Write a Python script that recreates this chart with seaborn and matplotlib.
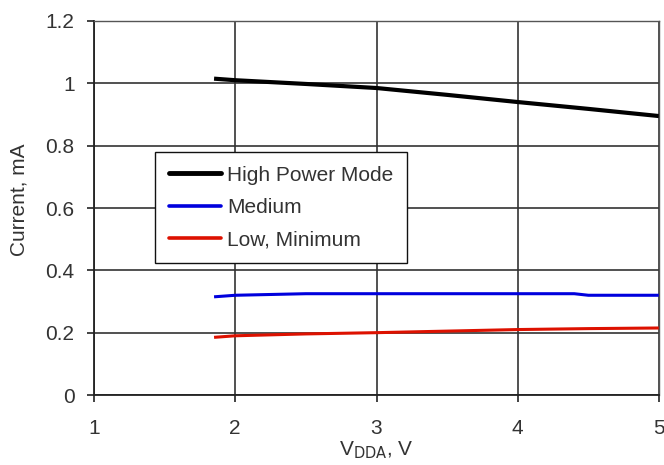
import matplotlib
matplotlib.use("Agg")
import matplotlib.pyplot as plt
import seaborn as sns
import pandas as pd
from matplotlib.lines import Line2D

# Data
series_names = ["High Power Mode", "Medium", "Low, Minimum"]
x_high = [1.85, 2.0, 2.5, 3.0, 3.5, 4.0, 4.5, 5.0]
y_high = [1.015, 1.01, 0.998, 0.985, 0.963, 0.94, 0.918, 0.895]
x_med = [1.85, 2.0, 2.5, 3.0, 3.5, 4.0, 4.4, 4.5, 5.0]
y_med = [0.315, 0.32, 0.325, 0.325, 0.325, 0.325, 0.325, 0.32, 0.32]
x_low = [1.85, 2.0, 2.5, 3.0, 3.5, 4.0, 4.5, 5.0]
y_low = [0.185, 0.19, 0.196, 0.2, 0.205, 0.21, 0.213, 0.215]
colors = ["#000000", "#0000dd", "#dd1100"]
x_ticks = [1, 2, 3, 4, 5]
y_ticks = [0, 0.2, 0.4, 0.6, 0.8, 1, 1.2]
y_tick_labels = ["0", "0.2", "0.4", "0.6", "0.8", "1", "1.2"]

rows = []
for name, xs, ys in zip(series_names, [x_high, x_med, x_low], [y_high, y_med, y_low]):
    for xv, yv in zip(xs, ys):
        rows.append({"V": xv, "I": yv, "Mode": name})
df = pd.DataFrame(rows)

sns.set_theme(style="white")
plt.rcParams["font.family"] = ["Liberation Sans", "DejaVu Sans"]

FS = 15
fig = plt.figure(figsize=(6.64, 4.65), dpi=100)
ax = fig.add_axes([94 / 664, 70 / 465, 565 / 664, 374 / 465])

sns.lineplot(data=df, x="V", y="I", hue="Mode", hue_order=series_names,
             palette=colors, ax=ax, sort=True, estimator=None, legend=False)
for line, lw in zip(ax.get_lines(), [3.0, 2.2, 2.2]):
    line.set_linewidth(lw)
    line.set_solid_capstyle("butt")

ax.set_xlim(1, 5)
ax.set_ylim(0, 1.2)
ax.set_xticks(x_ticks)
ax.set_xticklabels([str(t) for t in x_ticks])
ax.set_yticks(y_ticks)
ax.set_yticklabels(y_tick_labels)
ax.grid(True, color="#333333", linewidth=1.2)
ax.set_axisbelow(True)
for s in ["left", "bottom"]:
    ax.spines[s].set_color("#222222")
    ax.spines[s].set_linewidth(1.3)
for s in ["top", "right"]:
    ax.spines[s].set_color("#555555")
    ax.spines[s].set_linewidth(1.0)
ax.tick_params(axis="y", which="major", length=5, width=1.2, color="#222222",
               labelsize=FS, labelcolor="#333333", pad=9, direction="out", left=True)
ax.tick_params(axis="x", which="major", length=5, width=1.2, color="#222222",
               labelsize=FS, labelcolor="#333333", pad=12, direction="out", bottom=True)

ax.set_xlabel(r"V$_{\mathrm{DDA}}$, V", fontsize=FS, color="#333333", labelpad=1)
ax.set_ylabel("Current, mA", fontsize=FS, color="#333333")
ax.yaxis.set_label_coords((28 - 94) / 565, (395 - 200) / 374)

handles = [Line2D([0], [0], color=c, lw=lw) for c, lw in zip(colors, [3.5, 2.6, 2.6])]
leg = ax.legend(handles, series_names, loc="upper left",
                bbox_to_anchor=((155 - 94) / 565, (395 - 152) / 374),
                frameon=True, fancybox=False, framealpha=1, edgecolor="#111111",
                fontsize=FS, handlelength=2.5, handletextpad=0.3,
                labelspacing=0.65, borderpad=0.65, borderaxespad=0)
leg.get_frame().set_linewidth(1.0)
for t in leg.get_texts():
    t.set_color("#333333")

fig.savefig("out.png", dpi=100, facecolor="white")
